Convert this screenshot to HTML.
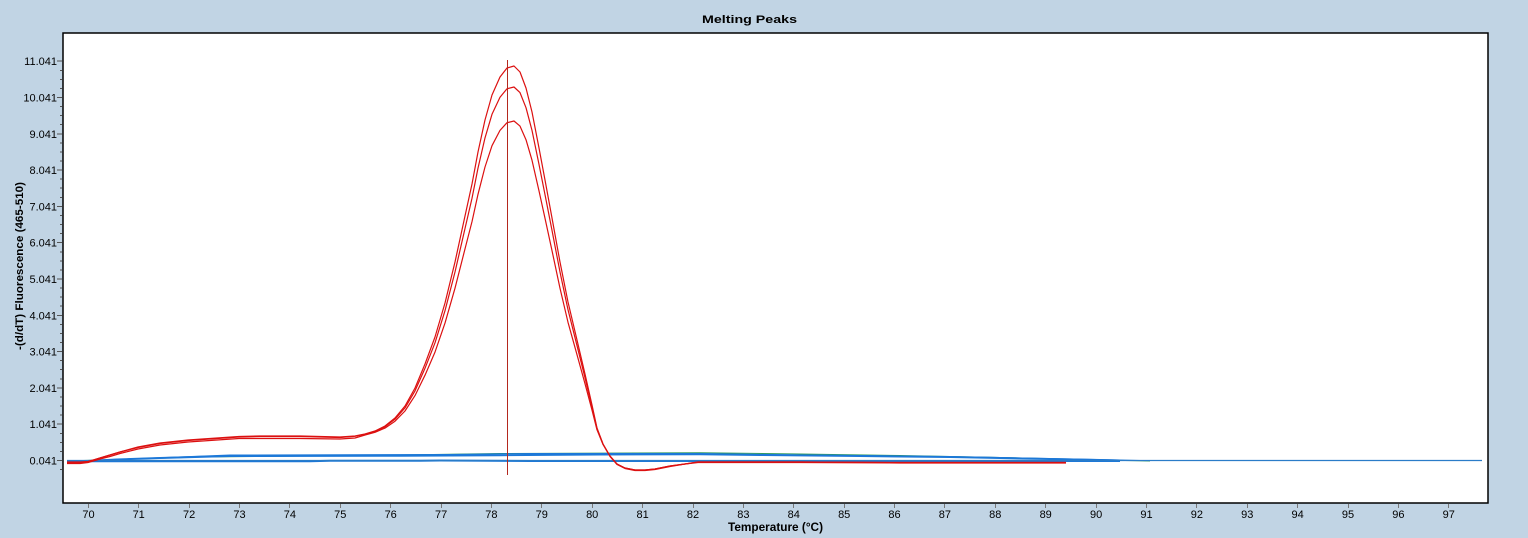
<!DOCTYPE html>
<html>
<head>
<meta charset="utf-8">
<style>
  html,body{margin:0;padding:0;background:#c1d4e4;}
  svg{display:block;}
  text{font-family:"Liberation Sans",Arial,sans-serif;fill:#000;}
</style>
</head>
<body>
<svg width="1528" height="538" viewBox="0 0 1528 538" xmlns="http://www.w3.org/2000/svg">
  <rect x="0" y="0" width="1528" height="538" fill="#c1d4e4"/>
  <!-- title -->
  <text x="749.5" y="23" font-size="11" font-weight="bold" text-anchor="middle" textLength="95" lengthAdjust="spacingAndGlyphs">Melting Peaks</text>

  <!-- plot area -->
  <rect x="63" y="33" width="1425" height="470" fill="#ffffff" stroke="#000" stroke-width="1.5"/>

  <!-- Y ticks -->
  <g stroke="#555" stroke-width="1" shape-rendering="crispEdges">
    <line x1="57" y1="460.5" x2="62" y2="460.5"/>
    <line x1="57" y1="424.2" x2="62" y2="424.2"/>
    <line x1="57" y1="387.9" x2="62" y2="387.9"/>
    <line x1="57" y1="351.6" x2="62" y2="351.6"/>
    <line x1="57" y1="315.3" x2="62" y2="315.3"/>
    <line x1="57" y1="279.0" x2="62" y2="279.0"/>
    <line x1="57" y1="242.7" x2="62" y2="242.7"/>
    <line x1="57" y1="206.4" x2="62" y2="206.4"/>
    <line x1="57" y1="170.1" x2="62" y2="170.1"/>
    <line x1="57" y1="133.8" x2="62" y2="133.8"/>
    <line x1="57" y1="97.5" x2="62" y2="97.5"/>
    <line x1="57" y1="61.2" x2="62" y2="61.2"/>
  </g>
  <g stroke="#555" stroke-width="1" shape-rendering="crispEdges">
    <line x1="60" y1="469.5" x2="62" y2="469.5"/>
    <line x1="60" y1="451.4" x2="62" y2="451.4"/><line x1="60" y1="442.3" x2="62" y2="442.3"/><line x1="60" y1="433.3" x2="62" y2="433.3"/>
    <line x1="60" y1="415.1" x2="62" y2="415.1"/><line x1="60" y1="406.0" x2="62" y2="406.0"/><line x1="60" y1="397.0" x2="62" y2="397.0"/>
    <line x1="60" y1="378.8" x2="62" y2="378.8"/><line x1="60" y1="369.7" x2="62" y2="369.7"/><line x1="60" y1="360.7" x2="62" y2="360.7"/>
    <line x1="60" y1="342.5" x2="62" y2="342.5"/><line x1="60" y1="333.4" x2="62" y2="333.4"/><line x1="60" y1="324.4" x2="62" y2="324.4"/>
    <line x1="60" y1="306.2" x2="62" y2="306.2"/><line x1="60" y1="297.1" x2="62" y2="297.1"/><line x1="60" y1="288.1" x2="62" y2="288.1"/>
    <line x1="60" y1="269.9" x2="62" y2="269.9"/><line x1="60" y1="260.8" x2="62" y2="260.8"/><line x1="60" y1="251.8" x2="62" y2="251.8"/>
    <line x1="60" y1="233.6" x2="62" y2="233.6"/><line x1="60" y1="224.5" x2="62" y2="224.5"/><line x1="60" y1="215.5" x2="62" y2="215.5"/>
    <line x1="60" y1="197.3" x2="62" y2="197.3"/><line x1="60" y1="188.2" x2="62" y2="188.2"/><line x1="60" y1="179.2" x2="62" y2="179.2"/>
    <line x1="60" y1="161.0" x2="62" y2="161.0"/><line x1="60" y1="151.9" x2="62" y2="151.9"/><line x1="60" y1="142.9" x2="62" y2="142.9"/>
    <line x1="60" y1="124.7" x2="62" y2="124.7"/><line x1="60" y1="115.6" x2="62" y2="115.6"/><line x1="60" y1="106.6" x2="62" y2="106.6"/>
    <line x1="60" y1="88.4" x2="62" y2="88.4"/><line x1="60" y1="79.3" x2="62" y2="79.3"/><line x1="60" y1="70.3" x2="62" y2="70.3"/>
  </g>
  <g font-size="11" text-anchor="end">
    <text x="57" y="464.5">0.041</text>
    <text x="57" y="428.2">1.041</text>
    <text x="57" y="391.9">2.041</text>
    <text x="57" y="355.6">3.041</text>
    <text x="57" y="319.3">4.041</text>
    <text x="57" y="283.0">5.041</text>
    <text x="57" y="246.7">6.041</text>
    <text x="57" y="210.4">7.041</text>
    <text x="57" y="174.1">8.041</text>
    <text x="57" y="137.8">9.041</text>
    <text x="57" y="101.5">10.041</text>
    <text x="57" y="65.2">11.041</text>
  </g>
  <!-- Y axis title -->
  <text transform="translate(23,266) rotate(-90)" font-size="11" font-weight="bold" text-anchor="middle" textLength="168" lengthAdjust="spacingAndGlyphs">-(d/dT) Fluorescence (465-510)</text>

  <!-- X ticks -->
  <g stroke="#777" stroke-width="1" shape-rendering="crispEdges">
    <line x1="88.5" y1="504" x2="88.5" y2="508"/>
    <line x1="138.5" y1="504" x2="138.5" y2="508"/>
    <line x1="189.5" y1="504" x2="189.5" y2="508"/>
    <line x1="239.5" y1="504" x2="239.5" y2="508"/>
    <line x1="289.5" y1="504" x2="289.5" y2="508"/>
    <line x1="340.5" y1="504" x2="340.5" y2="508"/>
    <line x1="390.5" y1="504" x2="390.5" y2="508"/>
    <line x1="441.5" y1="504" x2="441.5" y2="508"/>
    <line x1="491.5" y1="504" x2="491.5" y2="508"/>
    <line x1="541.5" y1="504" x2="541.5" y2="508"/>
    <line x1="592.5" y1="504" x2="592.5" y2="508"/>
    <line x1="642.5" y1="504" x2="642.5" y2="508"/>
    <line x1="693.5" y1="504" x2="693.5" y2="508"/>
    <line x1="743.5" y1="504" x2="743.5" y2="508"/>
    <line x1="793.5" y1="504" x2="793.5" y2="508"/>
    <line x1="844.5" y1="504" x2="844.5" y2="508"/>
    <line x1="894.5" y1="504" x2="894.5" y2="508"/>
    <line x1="944.5" y1="504" x2="944.5" y2="508"/>
    <line x1="995.5" y1="504" x2="995.5" y2="508"/>
    <line x1="1045.5" y1="504" x2="1045.5" y2="508"/>
    <line x1="1096.5" y1="504" x2="1096.5" y2="508"/>
    <line x1="1146.5" y1="504" x2="1146.5" y2="508"/>
    <line x1="1196.5" y1="504" x2="1196.5" y2="508"/>
    <line x1="1247.5" y1="504" x2="1247.5" y2="508"/>
    <line x1="1297.5" y1="504" x2="1297.5" y2="508"/>
    <line x1="1348.5" y1="504" x2="1348.5" y2="508"/>
    <line x1="1398.5" y1="504" x2="1398.5" y2="508"/>
    <line x1="1448.5" y1="504" x2="1448.5" y2="508"/>
  </g>
  <g font-size="11" text-anchor="middle">
    <text x="88.5" y="518">70</text>
    <text x="138.7" y="518">71</text>
    <text x="189.1" y="518">72</text>
    <text x="239.5" y="518">73</text>
    <text x="289.9" y="518">74</text>
    <text x="340.3" y="518">75</text>
    <text x="390.7" y="518">76</text>
    <text x="441.1" y="518">77</text>
    <text x="491.4" y="518">78</text>
    <text x="541.8" y="518">79</text>
    <text x="592.2" y="518">80</text>
    <text x="642.6" y="518">81</text>
    <text x="693.0" y="518">82</text>
    <text x="743.4" y="518">83</text>
    <text x="793.8" y="518">84</text>
    <text x="844.2" y="518">85</text>
    <text x="894.5" y="518">86</text>
    <text x="944.9" y="518">87</text>
    <text x="995.3" y="518">88</text>
    <text x="1045.7" y="518">89</text>
    <text x="1096.1" y="518">90</text>
    <text x="1146.5" y="518">91</text>
    <text x="1196.9" y="518">92</text>
    <text x="1247.3" y="518">93</text>
    <text x="1297.6" y="518">94</text>
    <text x="1348.0" y="518">95</text>
    <text x="1398.4" y="518">96</text>
    <text x="1448.8" y="518">97</text>
  </g>
  <text x="775.5" y="531" font-size="12" font-weight="bold" text-anchor="middle" textLength="95" lengthAdjust="spacingAndGlyphs">Temperature (°C)</text>

  <!-- baseline / negative traces -->
  <g fill="none" stroke-linejoin="round">
    <polyline stroke="#2f9a5a" stroke-width="1" points="67,461 200,457 400,455 500,453.5 700,452.8 800,454 900,455.5 1000,457.5 1100,460 1150,461"/>
    <polyline stroke="#1c78d8" stroke-width="2" points="67,461.2 310,461.2 330,460.7 420,460.7 440,460.5 530,461 700,461 900,461 1000,461 1120,461"/>
    <polyline stroke="#1c78d8" stroke-width="2" points="88,461 117,459.5 160,458 230,456 400,455.7 500,455.2 600,454.5 700,454.3 760,455 860,456 950,457 1000,458 1050,459 1120,460.5"/>
    <polyline stroke="#1c78d8" stroke-width="1" points="100,460 230,455 450,454.5 530,453.5 700,453.5 800,455 900,456 1000,457.5 1100,459.5 1140,460.5"/>
    <line x1="67" y1="460.5" x2="1482" y2="460.5" stroke="#2a7cc8" stroke-width="1.2"/>
  </g>

  <!-- melting peak traces -->
  <g fill="none" stroke="#dc1010" stroke-width="1.2" stroke-linejoin="round">
    <polyline points="67,463 80,463 88,462 100,458 110,455 120,452 138,447 160,443 188,440 239,436.5 260,436 300,436 340,437 355,436 365,434 375,431 385,426 395,418 405,406 415,388 425,364 435,337 445,303 455,262 465,216 472,184 478,152 485,120 492,95 500,77 507,68 514,66 520,72 526,88 532,112 539,148 545,180 552,218 560,262 568,302 577,340 585,374 592,405 597,428 603,444 610,456 617,464 625,468 635,470 645,470 655,469 670,466 685,464 698,462 720,462 800,462 900,462.5 1066,462.5"/>
    <polyline points="67,462 80,462 88,461.5 100,458 110,455 120,452 138,447.5 160,443.5 188,440.5 239,437 260,436.5 300,436.5 340,437.5 355,436.3 365,434.3 375,431.5 385,426.8 395,419.2 405,407.9 415,390.9 425,368.3 435,342.8 445,310.7 455,272 465,228.5 472,198.3 478,168.1 485,137.9 492,114.3 500,97.3 507,88.8 514,87 520,92.6 526,107.7 532,130.4 539,164.4 545,194.6 552,230.4 560,272 568,309.7 577,345.6 585,377.7 592,407 597,428.7 603,444 610,456 617,464 625,468 635,470 645,470 655,469 670,466 685,464 698,462 720,462 800,462 900,462.5 1066,462.5"/>
    <polyline points="67,463.5 80,463.5 88,462.5 100,459 110,456.5 120,453.5 138,449 160,445 188,442 239,438.5 260,438.5 300,438.5 340,439 355,438 365,435 375,432.3 385,428.1 395,421.2 405,411 415,395.6 425,375.2 435,352.1 445,323.1 455,288.2 465,248.9 472,221.6 478,194.3 485,167 492,145.7 500,130.4 507,122.7 514,121 520,126.1 526,139.7 532,160.2 539,190.9 545,218.2 552,250.6 560,288.2 568,322.3 577,354.7 585,383.7 592,410.1 597,429.8 603,444.5 610,456.5 617,464.5 625,468.5 635,470.5 645,470.5 655,469.5 670,466.5 685,464 698,462.5 720,462.5 800,462.5 900,463 1066,463"/>
  </g>

  <!-- Tm marker -->
  <line x1="507.5" y1="60" x2="507.5" y2="475" stroke="#b4281e" stroke-width="1" shape-rendering="crispEdges"/>
</svg>
</body>
</html>
